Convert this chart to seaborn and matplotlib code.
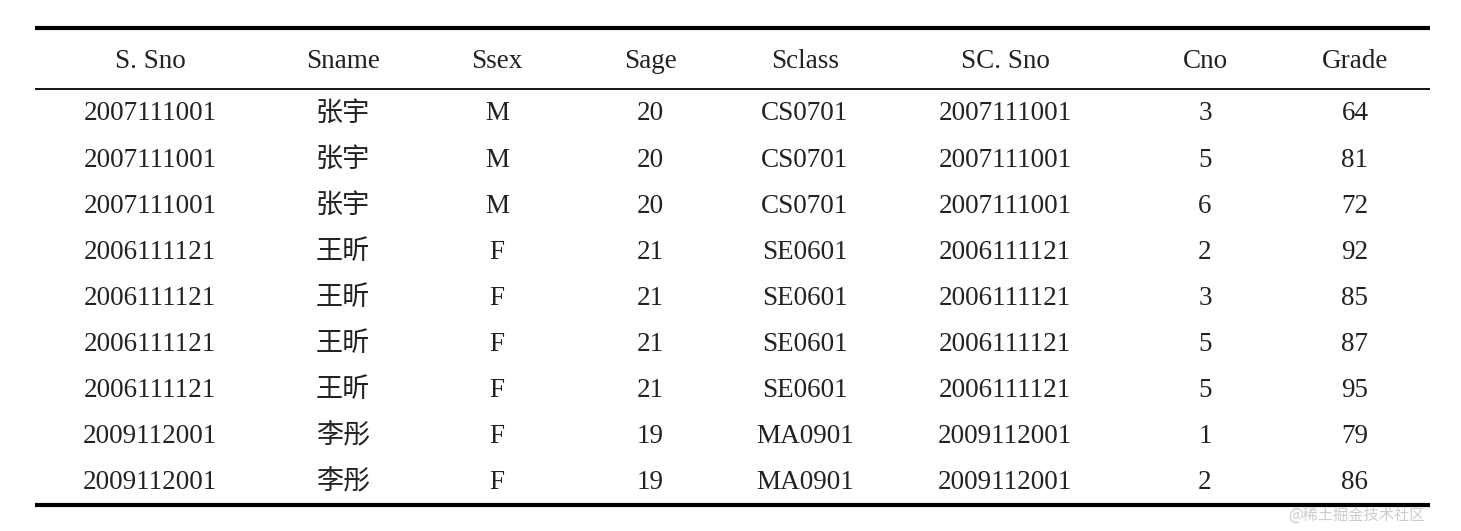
import matplotlib.pyplot as plt
import seaborn as sns

columns = ["S. Sno", "Sname", "Ssex", "Sage", "Sclass", "SC. Sno", "Cno", "Grade"]
s_sno = ["2007111001"] * 3 + ["2006111121"] * 4 + ["2009112001"] * 2
sname = ["张宇"] * 3 + ["王昕"] * 4 + ["李彤"] * 2
ssex = ["M"] * 3 + ["F"] * 6
sage = [20] * 3 + [21] * 4 + [19] * 2
sclass = ["CS0701"] * 3 + ["SE0601"] * 4 + ["MA0901"] * 2
sc_sno = s_sno
cno = [3, 5, 6, 2, 3, 5, 5, 1, 2]
grade = [64, 81, 72, 92, 85, 87, 95, 79, 86]

sns.set_theme(style="white")
plt.rcParams["font.family"] = ["Liberation Serif", "Noto Sans CJK SC", "DejaVu Sans"]

fig = plt.figure(figsize=(14.61, 5.31), dpi=100)
ax = fig.add_axes([0, 0, 1, 1])
ax.set_xlim(0, 1461)
ax.set_ylim(531, 0)
ax.axis("off")

col_x = [150, 343, 497, 650, 805, 1005, 1205, 1355]
header_y = 62
row_y0, row_step = 114, 46.1

ax.hlines(28, 35, 1430, color="black", lw=3)
ax.hlines(89, 35, 1430, color="black", lw=1.3)
ax.hlines(505, 35, 1430, color="black", lw=3)

for x, c in zip(col_x, columns):
    ax.text(x, header_y, c, ha="center", va="center", fontsize=19.5, color="#222222")

rows = list(zip(s_sno, sname, ssex, sage, sclass, sc_sno, cno, grade))
for i, row in enumerate(rows):
    y = row_y0 + i * row_step
    for x, v in zip(col_x, row):
        ax.text(x, y, str(v), ha="center", va="center", fontsize=19.5, color="#222222")

ax.text(1425, 515, "@稀土掘金技术社区", ha="right", va="center", fontsize=11,
        color="#cccccc", family=["Noto Sans CJK SC", "DejaVu Sans"])

fig.savefig("out.png", dpi=100)
